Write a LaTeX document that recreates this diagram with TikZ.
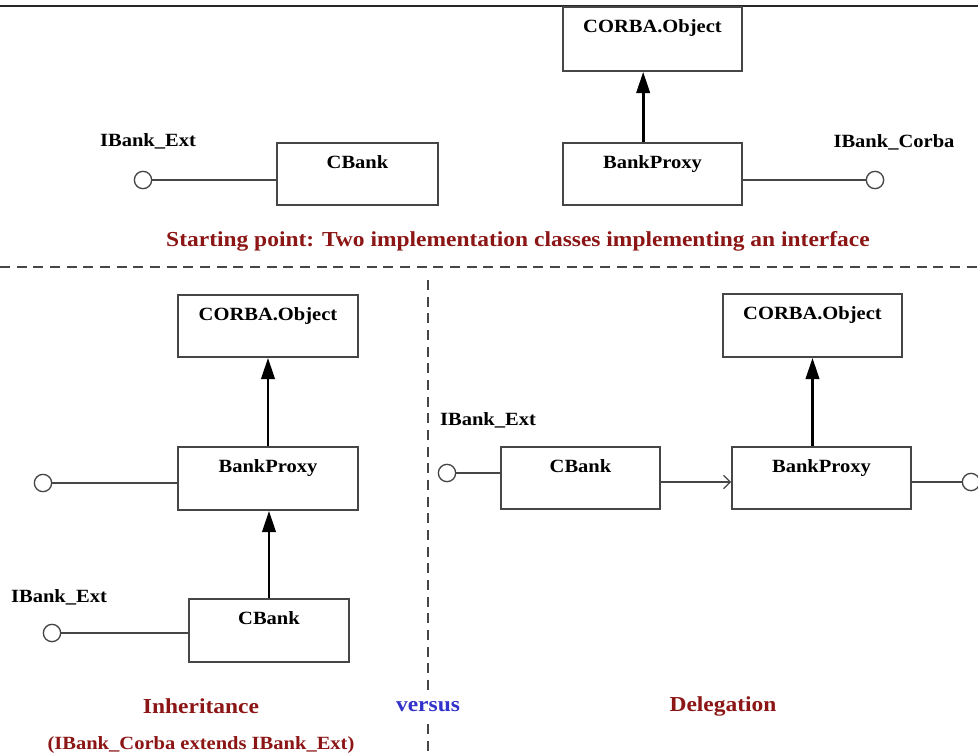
\documentclass[tikz,border=0pt]{standalone}
\usepackage{fontspec}
\setmainfont{Liberation Serif}
\newfontfamily\umlfont[FakeStretch=1.1]{Liberation Serif}
\usetikzlibrary{arrows.meta,fit}
\definecolor{capred}{RGB}{140,22,22}
\definecolor{vsblue}{RGB}{50,50,205}
\definecolor{edge}{RGB}{70,70,70}

\begin{document}
\begin{tikzpicture}[x=0.75pt,y=-0.75pt,
  cls/.style={draw=edge, line width=1.2pt, inner sep=0pt, fill=white},
  clsname/.style={font=\umlfont\bfseries\fontsize{14}{16}\selectfont, anchor=north, inner sep=0pt, yshift=-10pt},
  iface/.style={circle, draw=edge, line width=1pt, fill=white, minimum size=13pt, inner sep=0pt},
  ifname/.style={font=\umlfont\bfseries\fontsize{14}{16}\selectfont, inner sep=0pt},
  wire/.style={draw=edge, line width=1pt},
  inherit/.style={draw=black, line width=2.2pt, -{Triangle[length=16pt,width=10pt]}},
  uses/.style={draw=edge, line width=1pt, -{Straight Barb[length=5pt,width=10pt]}},
  caption/.style={font=\umlfont\bfseries\fontsize{16}{18}\selectfont, text=capred, inner sep=0pt},
  note/.style={font=\umlfont\bfseries\fontsize{14}{16}\selectfont, text=capred, inner sep=0pt},
  sep/.style={draw=edge, line width=1pt, dash pattern=on 7.5pt off 5pt}
]
\useasboundingbox (0,0) rectangle (978,756);
\fill[white] (0,0) rectangle (978,756);

% rule along the top edge
\coordinate (ruleL) at (0,6);
\coordinate (ruleR) at (978,6);
\draw[black!85, line width=1.6pt] (ruleL) -- (ruleR);

% ---------- starting point ----------
\node[cls, fit={(277,143) (438,205)}, label={[clsname]north:CBank}] (cb0) {};
\node[iface] (ext0) at (143,180) {};
\node[ifname] (ext0lbl) at (148,141) {IBank\_Ext};
\draw[wire] (ext0.east) -- (ext0.east -| cb0.west);

\node[cls, fit={(563,7) (742,71)}, label={[clsname]north:CORBA.Object}] (obj0) {};
\node[cls, fit={(563,143) (742,205)}, label={[clsname]north:BankProxy}] (bp0) {};
\draw[inherit] ([xshift=-7pt]bp0.north) -- ([xshift=-7pt]obj0.south);
\node[iface] (cor0) at (875,180) {};
\node[ifname] (cor0lbl) at (894,142) {IBank\_Corba};
\draw[wire] (cor0.west -| bp0.east) -- (cor0.west);

\node[caption] (start) at (518,241) {Starting point: Two implementation classes implementing an interface};

% separators
\coordinate (hsepL) at (0,267);
\coordinate (hsepR) at (978,267);
\draw[sep] (hsepL) -- (hsepR);
\coordinate (vsepA) at (428,280);
\coordinate (vsepB) at (428,692);
\coordinate (vsepC) at (428,724);
\coordinate (vsepD) at (428,756);
\draw[sep] (vsepA) -- (vsepB);
\draw[sep] (vsepC) -- (vsepD);

% ---------- inheritance ----------
\node[cls, fit={(178,295) (358,357)}, label={[clsname]north:CORBA.Object}] (obj1) {};
\node[cls, fit={(178,447) (358,510)}, label={[clsname]north:BankProxy}] (bp1) {};
\node[cls, fit={(189,599) (349,662)}, label={[clsname]north:CBank}] (cb1) {};
\draw[inherit] (bp1.north) -- (obj1.south);
\draw[inherit] (cb1.north) -- (cb1.north |- bp1.south);
\node[iface] (cor1) at (43,483) {};
\draw[wire] (cor1.east) -- (cor1.east -| bp1.west);
\node[iface] (ext1) at (52,633) {};
\node[ifname] (ext1lbl) at (59,597) {IBank\_Ext};
\draw[wire] (ext1.east) -- (ext1.east -| cb1.west);

\node[caption] (inh) at (201,706) {Inheritance};
\node[note] (inhnote) at (201,745) {(IBank\_Corba extends IBank\_Ext)};
\node[caption, text=vsblue] (vs) at (428,707) {versus};

% ---------- delegation ----------
\node[cls, fit={(723,294) (902,357)}, label={[clsname]north:CORBA.Object}] (obj2) {};
\node[cls, fit={(501,447) (660,509)}, label={[clsname]north:CBank}] (cb2) {};
\node[cls, fit={(732,447) (911,509)}, label={[clsname]north:BankProxy}] (bp2) {};
\draw[inherit] (obj2.south |- bp2.north) -- (obj2.south);
\draw[uses] ([yshift=-3pt]cb2.east) -- ([yshift=-3pt]bp2.west);
\node[iface] (ext2) at (447,473) {};
\node[ifname] (ext2lbl) at (488,420) {IBank\_Ext};
\draw[wire] (ext2.east) -- (ext2.east -| cb2.west);
\node[iface] (cor2) at (971,482) {};
\draw[wire] (cor2.west -| bp2.east) -- (cor2.west);

\node[caption] (del) at (723,706) {Delegation};
\end{tikzpicture}
\end{document}
